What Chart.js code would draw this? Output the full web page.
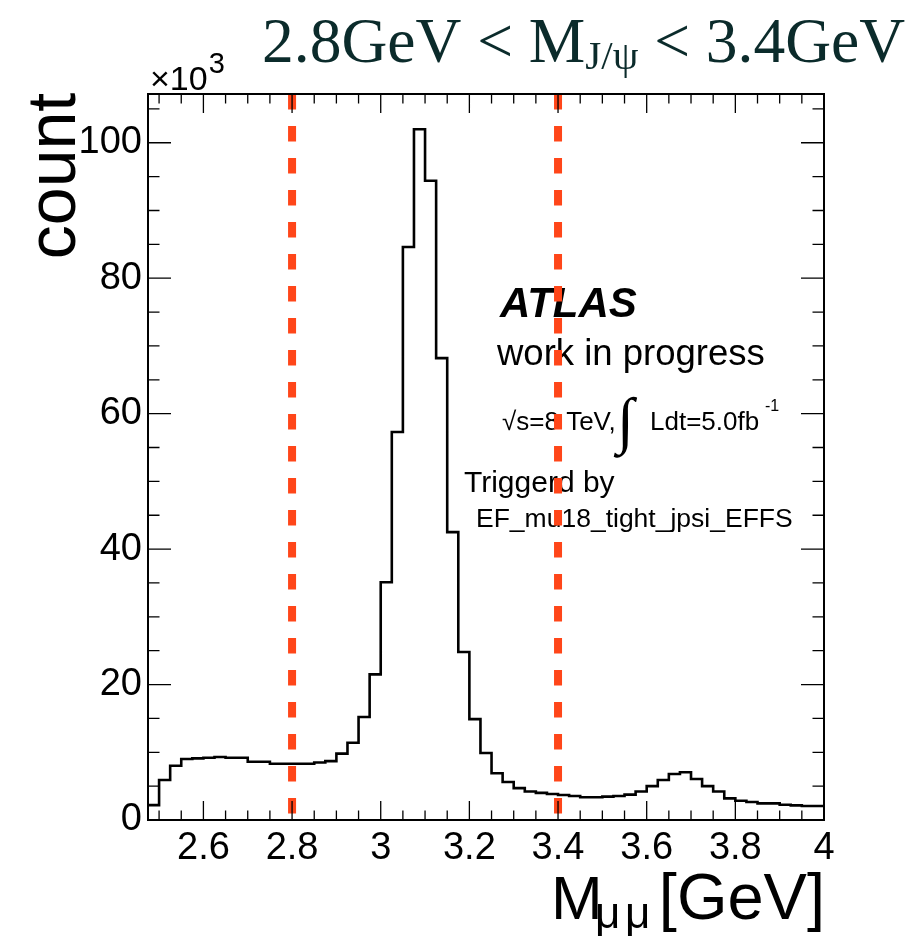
<!DOCTYPE html>
<html><head><meta charset="utf-8">
<script src="https://cdn.jsdelivr.net/npm/chart.js@4.4.1/dist/chart.umd.min.js"></script>
<style>html,body{margin:0;padding:0;background:#fff;}#wrap{width:924px;height:941px;position:relative;}</style>
</head><body><div id="wrap"><canvas id="c" width="924" height="941"></canvas></div>
<script>
// ---- data ----
const binLow = 2.475;      // lower edge of first bin [GeV]
const binWidth = 0.025;    // bin width [GeV]
const countsK = [
  2.2, 5.9, 8.0, 9.0, 9.1, 9.2, 9.3, 9.2, 9.2, 8.6,
  8.6, 8.3, 8.3, 8.3, 8.3, 8.5, 8.7, 9.8, 11.4, 15.2,
  21.5, 35.1, 57.3, 84.6, 102.0, 94.4, 68.2, 42.5, 24.8, 14.9,
  9.9, 6.9, 5.6, 4.7, 4.2, 4.0, 3.85, 3.7, 3.55, 3.35,
  3.35, 3.45, 3.55, 3.75, 4.2, 5.0, 5.9, 6.8, 7.05, 6.05,
  5.0, 4.2, 3.2, 2.85, 2.66, 2.46, 2.46, 2.26, 2.16, 2.07, 2.07
];
const cutValues = [2.8, 3.4];
const xRange = [2.475, 4.0];
const yRange = [0, 107.2];
const xMajorTicks = [2.6, 2.8, 3.0, 3.2, 3.4, 3.6, 3.8, 4.0];
const xMinorTicks = [2.5, 2.55, 2.65, 2.7, 2.75, 2.85, 2.9, 2.95, 3.05, 3.1, 3.15, 3.25, 3.3, 3.35, 3.45, 3.5, 3.55, 3.65, 3.7, 3.75, 3.85, 3.9, 3.95];
const yMajorTicks = [0, 20, 40, 60, 80, 100];
const yMinorTicks = [5, 10, 15, 25, 30, 35, 45, 50, 55, 65, 70, 75, 85, 90, 95, 105];

const SANS = "'Liberation Sans', Arial, Helvetica, sans-serif";
const SERIF = "'Liberation Serif', 'Times New Roman', serif";

const histPoints = countsK.map((v, i) => ({x: binLow + i * binWidth, y: v}));
histPoints.push({x: binLow + countsK.length * binWidth, y: countsK[countsK.length - 1]});

const cutDatasets = cutValues.map(c => ({
  data: [{x: c, y: yRange[1]}, {x: c, y: yRange[0]}],
  borderColor: 'rgb(255,70,25)',
  borderWidth: 8,
  borderDash: [15.5, 16.5],
  pointRadius: 0,
  fill: false,
  order: 0
}));

const frameTicks = {
  id: 'frameTicks',
  afterDatasetsDraw(chart) {
    const {ctx, chartArea: a, scales: {x, y}} = chart;
    ctx.save();
    ctx.strokeStyle = '#000';
    ctx.lineWidth = 1.3;
    ctx.beginPath();
    const xt = (vals, len) => vals.forEach(v => {
      const px = x.getPixelForValue(v);
      ctx.moveTo(px, a.bottom); ctx.lineTo(px, a.bottom - len);
      ctx.moveTo(px, a.top); ctx.lineTo(px, a.top + len);
    });
    const yt = (vals, len) => vals.forEach(v => {
      const py = y.getPixelForValue(v);
      ctx.moveTo(a.left, py); ctx.lineTo(a.left + len, py);
      ctx.moveTo(a.right, py); ctx.lineTo(a.right - len, py);
    });
    xt(xMajorTicks, 19); xt(xMinorTicks, 9.5);
    yt(yMajorTicks, 23); yt(yMinorTicks, 11.5);
    ctx.stroke();
    ctx.lineWidth = 2;
    ctx.strokeRect(a.left, a.top, a.right - a.left, a.bottom - a.top);
    ctx.restore();
  }
};

const texts = {
  id: 'texts',
  beforeDatasetsDraw(chart) {
    const ctx = chart.ctx;
    ctx.save();
    ctx.fillStyle = '#000';
    ctx.textBaseline = 'alphabetic';
    ctx.textAlign = 'left';
    ctx.font = `italic bold 42px ${SANS}`;
    ctx.fillText('ATLAS', 500, 317);
    ctx.font = `36.5px ${SANS}`;
    ctx.fillText('work in progress', 497, 365);
    ctx.font = `26px ${SANS}`;
    ctx.fillText('\u221As=8 TeV,', 502, 430);
    ctx.font = `62px ${SERIF}`;
    ctx.fillText('\u222B', 617, 441);
    ctx.font = `26px ${SANS}`;
    ctx.fillText('Ldt=5.0fb', 650, 430);
    ctx.font = `16px ${SANS}`;
    ctx.fillText('-1', 765, 411);
    ctx.font = `30px ${SANS}`;
    ctx.fillText('Triggerd by', 464, 492);
    ctx.font = `26.5px ${SANS}`;
    ctx.fillText('EF_mu18_tight_jpsi_EFFS', 476, 527);
    ctx.restore();
  },
  afterDraw(chart) {
    const ctx = chart.ctx;
    ctx.save();
    // title
    ctx.fillStyle = '#0b2b2b';
    ctx.textBaseline = 'alphabetic';
    ctx.textAlign = 'left';
    let tx = 262;
    const main = `63.5px ${SERIF}`, sub = `41px ${SERIF}`;
    ctx.font = main; ctx.fillText('2.8GeV < M', tx, 62); tx += ctx.measureText('2.8GeV < M').width;
    ctx.font = sub; ctx.fillText('J/\u03C8', tx, 69); tx += ctx.measureText('J/\u03C8').width;
    ctx.font = main; ctx.fillText(' < 3.4GeV', tx, 62);
    // x axis title
    ctx.fillStyle = '#000';
    ctx.font = `62px ${SANS}`;
    ctx.fillText('M', 551, 919);
    ctx.font = `44px ${SANS}`;
    ctx.fillText('\u03BC', 595, 928);
    ctx.fillText('\u03BC', 625, 928);
    ctx.textAlign = 'right';
    ctx.font = `65px ${SANS}`;
    ctx.fillText('[GeV]', 825, 919);
    // x10^3
    ctx.textAlign = 'left';
    ctx.font = `34px ${SANS}`;
    ctx.fillText('\u00D710', 150, 90);
    const w10 = ctx.measureText('\u00D710').width;
    ctx.font = `29px ${SANS}`;
    ctx.fillText('3', 150 + w10 + 1, 73);
    // y title
    ctx.save();
    ctx.translate(75, 176);
    ctx.rotate(-Math.PI / 2);
    ctx.textAlign = 'center';
    ctx.font = `68px ${SANS}`;
    ctx.fillText('count', 0, 0);
    ctx.restore();
    ctx.restore();
  }
};

Chart.defaults.font.family = SANS;
Chart.defaults.color = '#000';

new Chart(document.getElementById('c'), {
  type: 'line',
  data: {
    datasets: [
      ...cutDatasets,
      {
        data: histPoints,
        borderColor: '#000',
        borderWidth: 2.6,
        stepped: true,
        pointRadius: 0,
        fill: false,
        order: 1
      }
    ]
  },
  options: {
    responsive: false,
    animation: false,
    devicePixelRatio: 1,
    layout: {padding: {left: 0, right: 100, top: 94, bottom: 0}},
    plugins: {legend: {display: false}, tooltip: {enabled: false}, title: {display: false}},
    scales: {
      x: {
        type: 'linear',
        min: xRange[0], max: xRange[1],
        grid: {display: false, drawTicks: false},
        border: {display: false},
        afterBuildTicks: s => { s.ticks = xMajorTicks.map(v => ({value: v})); },
        afterFit: s => { s.height = 121; },
        ticks: {
          autoSkip: false, maxRotation: 0, minRotation: 0, padding: 6,
          font: {size: 38, family: SANS}, color: '#000',
          callback: v => String(+Number(v).toFixed(1))
        }
      },
      y: {
        type: 'linear',
        min: yRange[0], max: yRange[1],
        grid: {display: false, drawTicks: false},
        border: {display: false},
        afterBuildTicks: s => { s.ticks = yMajorTicks.map(v => ({value: v})); },
        afterFit: s => { s.width = 148; },
        ticks: {
          autoSkip: false, padding: 6,
          font: {size: 38, family: SANS}, color: '#000',
          callback: v => String(v)
        }
      }
    }
  },
  plugins: [frameTicks, texts]
});
</script>
</body></html>
